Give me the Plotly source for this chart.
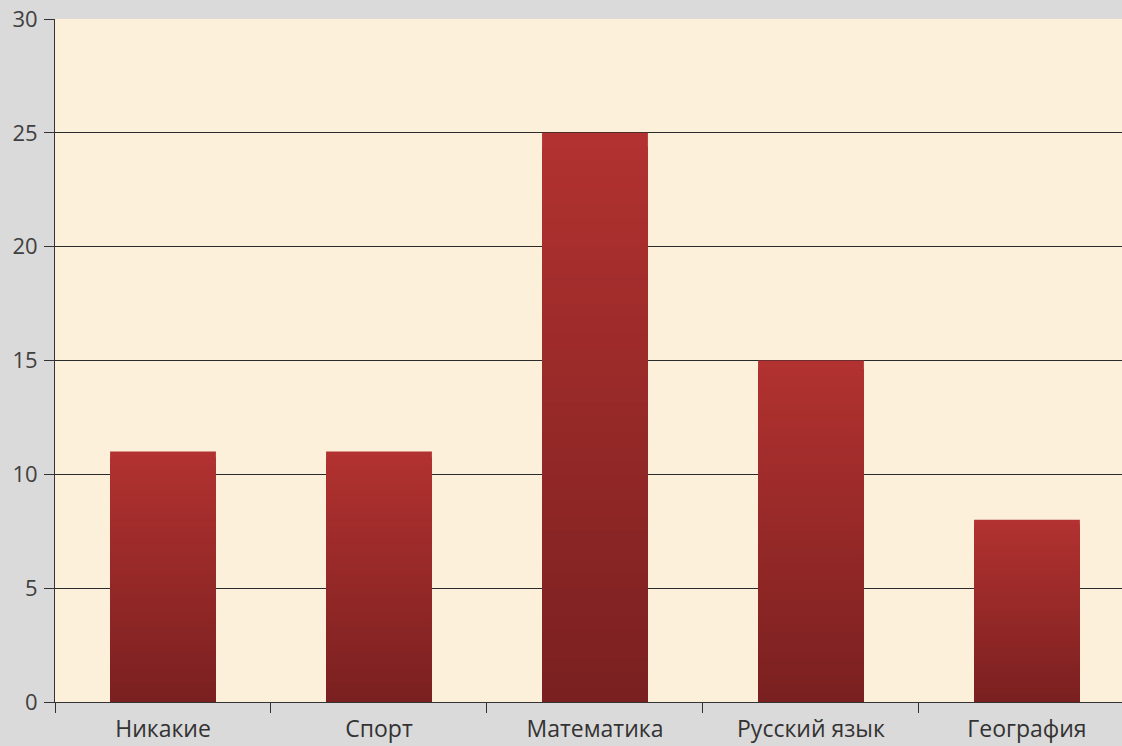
import plotly.graph_objects as go

categories = ["Никакие", "Спорт", "Математика", "Русский язык", "География"]
values = [11, 11, 25, 15, 8]
y_ticks = [0, 5, 10, 15, 20, 25, 30]

top_rgb = (178, 50, 48)
bot_rgb = (122, 32, 32)
N = 40

fig = go.Figure()
# overlapping bars, tallest (lightest) first, each shorter one darker -> vertical gradient
for k in range(N):
    frac = (N - k) / N
    t = (N - k - 0.5) / N
    r = round(bot_rgb[0] + (top_rgb[0] - bot_rgb[0]) * t)
    g = round(bot_rgb[1] + (top_rgb[1] - bot_rgb[1]) * t)
    b = round(bot_rgb[2] + (top_rgb[2] - bot_rgb[2]) * t)
    fig.add_trace(go.Bar(
        x=categories,
        y=[v * frac for v in values],
        marker=dict(color=f"rgb({r},{g},{b})", line=dict(width=0)),
        showlegend=False,
        hoverinfo="skip" if k else None,
    ))

fig.update_layout(
    width=1122, height=746,
    margin=dict(l=55, r=0, t=19, b=44),
    paper_bgcolor="#dadada",
    plot_bgcolor="#fcf0da",
    barmode="overlay",
    bargap=0.51,
    font=dict(family="Open Sans, DejaVu Sans, sans-serif", size=22, color="#333333"),
    xaxis=dict(
        type="category",
        range=[-0.5, 4.44],
        showgrid=False,
        ticks="outside", ticklen=10, tickcolor="#333333",
        tickson="boundaries",
        showline=True, linecolor="#333333", linewidth=1,
        ticklabelstandoff=6,
        tickfont=dict(size=23, color="#333333"),
    ),
    yaxis=dict(
        range=[0, 30],
        tickvals=y_ticks,
        showgrid=True, gridcolor="#2b2b2b", gridwidth=1,
        ticks="outside", ticklen=10, tickcolor="#333333",
        showline=True, linecolor="#333333", linewidth=1,
        zeroline=False,
        ticklabelstandoff=2,
        tickfont=dict(size=22, color="#404040"),
    ),
)

fig.write_html("out.html", config={"displayModeBar": False},
               post_script="document.body.style.margin='0';")
